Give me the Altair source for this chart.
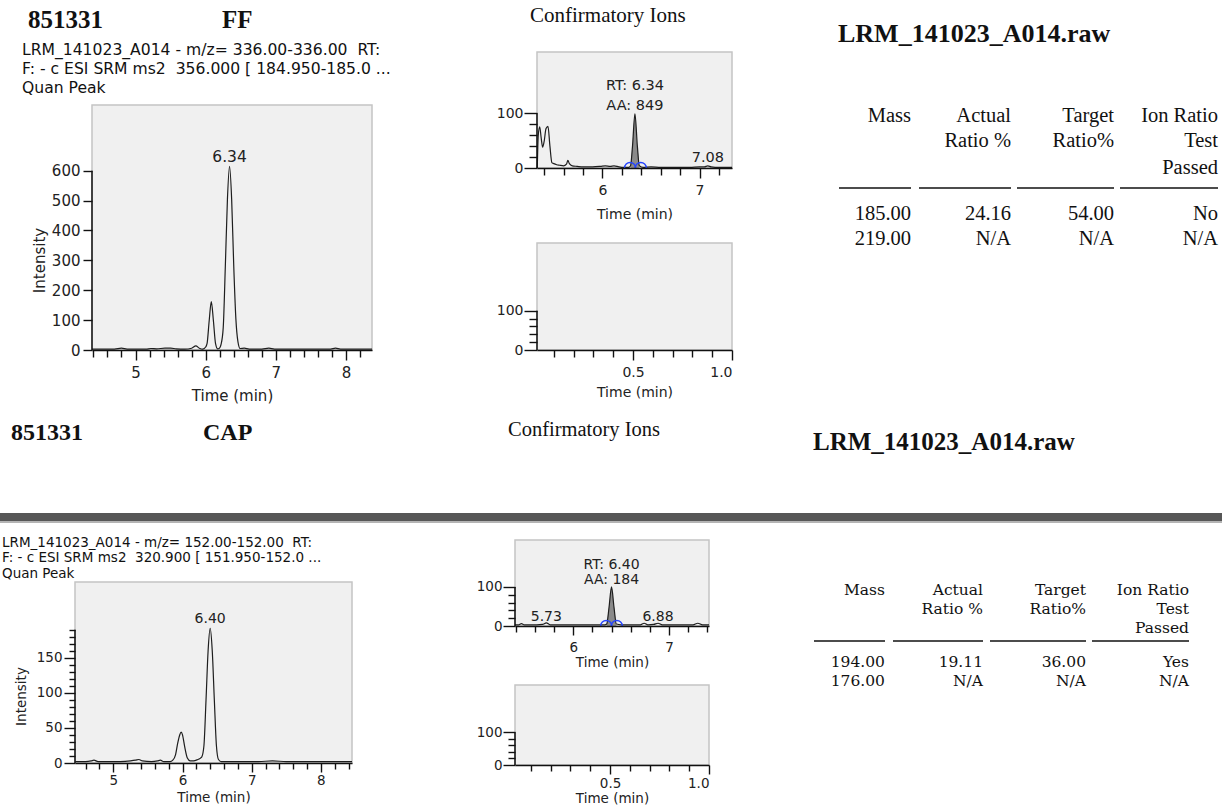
import altair as alt
import pandas as pd

W, H = 1222, 805
SANS = "DejaVu Sans"
SERIF = "Liberation Serif"
SERIF2 = "DejaVu Serif"
NB = "\u00a0"

# ---------------- texts ----------------
sample_id = "851331"
compound_top = "FF"
compound_bottom = "CAP"
raw_file = "LRM_141023_A014.raw"
conf_title = "Confirmatory Ions"
top_info = ["LRM_141023_A014 - m/z= 336.00-336.00 " + NB + "RT:",
            "F: - c ESI SRM ms2 " + NB + "356.000 [ 184.950-185.0 ...",
            "Quan Peak"]
bot_info = ["LRM_141023_A014 - m/z= 152.00-152.00 " + NB + "RT:",
            "F: - c ESI SRM ms2 " + NB + "320.900 [ 151.950-152.0 ...",
            "Quan Peak"]

table_headers = [["Mass"], ["Actual", "Ratio %"], ["Target", "Ratio%"], ["Ion Ratio", "Test", "Passed"]]
ff_table_rows = [["185.00", "24.16", "54.00", "No"], ["219.00", "N/A", "N/A", "N/A"]]
cap_table_rows = [["194.00", "19.11", "36.00", "Yes"], ["176.00", "N/A", "N/A", "N/A"]]

# ---------------- chromatogram data ----------------
# FF quan peak (m/z 336 -> 185)
ff_q_t = [4.38, 4.55, 4.70, 4.80, 4.88, 5.00, 5.15, 5.22, 5.30, 5.42, 5.50, 5.58, 5.70, 5.80, 5.86,
          5.91, 5.96, 6.00, 6.02, 6.05, 6.08, 6.11, 6.14, 6.17, 6.19, 6.22, 6.25, 6.28, 6.31, 6.34,
          6.37, 6.40, 6.43, 6.46, 6.49, 6.55, 6.62, 6.80, 6.90, 6.98, 7.20, 7.50, 7.78, 7.85, 7.92,
          8.10, 8.37]
ff_q_i = [3, 3, 3, 6, 3, 3, 3, 5, 4, 6, 6, 4, 3, 6, 14,
          6, 3, 10, 22, 98, 162, 98, 22, 4, 5, 20, 75, 280, 505, 615,
          505, 280, 105, 27, 5, 6, 3, 3, 6, 3, 3, 3, 3, 6, 3,
          3, 3]
ff_q_labels = [(6.34, 615, "6.34")]

# FF confirmatory ion
ff_c_t = [5.33, 5.34, 5.355, 5.37, 5.385, 5.40, 5.42, 5.44, 5.46, 5.48, 5.50, 5.53, 5.56, 5.60, 5.63,
          5.645, 5.66, 5.69, 5.74, 5.80, 5.90, 5.98, 6.03, 6.08, 6.12, 6.17, 6.22, 6.27, 6.29, 6.31,
          6.335, 6.36, 6.38, 6.42, 6.50, 6.60, 6.75, 6.90, 7.00, 7.05, 7.085, 7.12, 7.20, 7.334]
ff_c_i = [0, 60, 75, 55, 38, 48, 72, 76, 40, 10, 8, 6, 5, 4, 7,
          14, 8, 4, 3, 2, 2, 3, 4, 3, 4, 2, 1, 1, 4, 40,
          99, 40, 4, 1, 2, 1, 1, 1, 2, 2, 4, 2, 1, 1]
ff_c_peak = (6.28, 6.385)
ff_c_marks = [6.285, 6.395]
ff_c_rt = (6.335, 99, "RT: 6.34", "AA: 849")
ff_c_labels = [(7.085, 4, "7.08")]

# CAP quan peak (m/z 320.9 -> 152)
cap_q_t = [4.45, 4.60, 4.68, 4.72, 4.78, 4.95, 5.10, 5.25, 5.32, 5.37, 5.42, 5.55, 5.64, 5.68, 5.73,
           5.82, 5.86, 5.90, 5.93, 5.96, 5.98, 6.00, 6.03, 6.07, 6.11, 6.16, 6.22, 6.26, 6.28, 6.31,
           6.34, 6.37, 6.40, 6.43, 6.46, 6.49, 6.52, 6.56, 6.70, 6.90, 7.10, 7.30, 7.50, 7.80, 8.10,
           8.45]
cap_q_i = [2, 2, 3, 4, 2, 2, 2, 3, 4, 5, 3, 2, 3, 4, 2,
           2, 4, 12, 28, 40, 44, 40, 24, 7, 3, 3, 5, 7, 9, 25,
           90, 160, 192, 160, 90, 25, 5, 2, 2, 2, 2, 3, 2, 2, 2,
           2]
cap_q_labels = [(6.40, 192, "6.40")]

# CAP confirmatory ion
cap_c_t = [5.393, 5.43, 5.46, 5.49, 5.55, 5.62, 5.68, 5.72, 5.76, 5.85, 5.95, 6.05, 6.15, 6.25, 6.33,
           6.35, 6.375, 6.40, 6.425, 6.45, 6.50, 6.60, 6.70, 6.74, 6.78, 6.84, 6.885, 6.93, 7.00, 7.15,
           7.25, 7.30, 7.35, 7.417]
cap_c_i = [3, 3, 6, 3, 3, 3, 4, 8, 3, 3, 3, 3, 3, 3, 3,
           5, 50, 100, 50, 5, 3, 3, 3, 7, 3, 4, 7, 3, 3, 3,
           3, 7, 3, 3]
cap_c_peak = (6.345, 6.455)
cap_c_marks = [6.345, 6.455]
cap_c_rt = (6.40, 100, "RT: 6.40", "AA: 184")
cap_c_labels = [(5.72, 8, "5.73"), (6.885, 7, "6.88")]


def steps(a, b, s, skip=()):
    out, k = [], 0
    while a + k * s <= b + 1e-9:
        v = round(a + k * s, 2)
        if all(abs(v - q) > 1e-6 for q in skip):
            out.append(v)
        k += 1
    return out


# ---------------- panel layouts ----------------
P = {
    "ff_quan": dict(xdom=[4.38, 8.37], ydom=[0, 820], xr=[92, 372], yr=[350, 105], ytop=600,
                    xmajor=[5, 6, 7, 8], xminor=steps(4.4, 8.2, 0.2, [5, 6, 7, 8]), xfmt="d",
                    ymajor=[0, 100, 200, 300, 400, 500, 600], yminor=[],
                    font=15, xmaj=10, xmin=7, ymaj=9, ymin=6, xpad=5, ypad=3, xtitle_y=50,
                    ytitle="Intensity", ytitle_x=-53, ytitle_y=260, lab_dy=-4),
    "ff_conf": dict(xdom=[5.327, 7.334], ydom=[0, 212], xr=[537, 732], yr=[168, 52], ytop=100,
                    xmajor=[6, 7], xminor=steps(5.4, 7.2, 0.2, [6, 7]), xfmt="d",
                    ymajor=[0, 100], yminor=[20, 40, 60, 80],
                    font=14, xmaj=10, xmin=7, ymaj=13, ymin=8, xpad=5, ypad=1, xtitle_y=50,
                    rt_dy1=-24, rt_dy2=-4, lab_dy=-4),
    "ff_empty": dict(xdom=[0.015, 1.0], ydom=[0, 273], xr=[537, 732], yr=[350, 243], ytop=100,
                     xmajor=[0.5, 1.0], xminor=steps(0.1, 0.9, 0.1, [0.5]), xfmt=".1f",
                     ymajor=[0, 100], yminor=[20, 40, 60, 80],
                     font=14, xmaj=10, xmin=7, ymaj=13, ymin=8, xpad=5, ypad=1, xtitle_y=46),
    "cap_quan": dict(xdom=[4.446, 8.45], ydom=[0, 258], xr=[75, 352], yr=[763, 582], ytop=190,
                     xmajor=[5, 6, 7, 8], xminor=steps(4.6, 8.4, 0.2, [5, 6, 7, 8]), xfmt="d",
                     ymajor=[0, 50, 100, 150], yminor=steps(10, 190, 10, [50, 100, 150]),
                     font=13.5, xmaj=9, xmin=6, ymaj=11, ymin=6, xpad=1, ypad=2, xtitle_y=38,
                     ytitle="Intensity", ytitle_x=-54, ytitle_y=696, lab_dy=-5),
    "cap_conf": dict(xdom=[5.393, 7.417], ydom=[0, 220], xr=[515, 709], yr=[626, 540], ytop=100,
                     xmajor=[6, 7], xminor=steps(5.4, 7.4, 0.2, [6, 7]), xfmt="d",
                     ymajor=[0, 100], yminor=[20, 40, 60, 80],
                     font=13.5, xmaj=9, xmin=6, ymaj=12, ymin=7, xpad=5, ypad=1, xtitle_y=40,
                     rt_dy1=-18, rt_dy2=-3, lab_dy=-2),
    "cap_empty": dict(xdom=[0.02, 1.0], ydom=[0, 245], xr=[515, 709], yr=[765, 685], ytop=100,
                      xmajor=[0.5, 1.0], xminor=steps(0.1, 0.9, 0.1, [0.5]), xfmt=".1f",
                      ymajor=[0, 100], yminor=[20, 40, 60, 80],
                      font=13.5, xmaj=9, xmin=6, ymaj=12, ymin=7, xpad=2, ypad=1, xtitle_y=37),
}

ARC = "M -1 0 A 1 1 0 0 1 1 0"


def common(size):
    return dict(labelFont=SANS, labelFontSize=size, labelColor="#222",
                titleFont=SANS, titleFontSize=size, titleColor="#222", titleFontWeight="normal",
                tickColor="#111", tickWidth=1.4, grid=False, zindex=1)


def panel(p, t=None, i=None, peak=None, marks=None, rt=None, labels=()):
    xs = alt.Scale(domain=p["xdom"], range=p["xr"], nice=False, zero=False)
    ys = alt.Scale(domain=p["ydom"], range=p["yr"], nice=False, zero=False)
    boff = p["yr"][0] - H
    loff = -p["xr"][0]
    fs = p["font"]
    cm = common(fs)
    layers = []

    # plot frame + minor ticks
    bg = pd.DataFrame({"x0": [p["xdom"][0]], "x1": [p["xdom"][1]],
                       "y0": [p["ydom"][0]], "y1": [p["ydom"][1]]})
    xminor = alt.Axis(orient="bottom", offset=boff, values=p["xminor"], labels=False, title=None,
                      domain=False, tickSize=p["xmin"], **cm)
    if p["yminor"]:
        yminor = alt.Axis(orient="left", offset=loff, values=p["yminor"], labels=False, title=None,
                          domain=False, tickSize=p["ymin"], **cm)
    else:
        yminor = None
    layers.append(alt.Chart(bg).mark_rect(fill="#f0f0f0", stroke="#c4c4c4", strokeWidth=1.5).encode(
        x=alt.X("x0:Q", scale=xs, axis=xminor), x2="x1:Q",
        y=alt.Y("y0:Q", scale=ys, axis=yminor), y2="y1:Q"))

    if t is not None:
        df = pd.DataFrame({"t": t, "i": i})
        if peak:
            layers.append(alt.Chart(df).transform_filter(
                f"datum.t >= {peak[0]} && datum.t <= {peak[1]}").transform_calculate(base="0").mark_area(
                color="#8a8a8a", interpolate="monotone").encode(
                x=alt.X("t:Q", scale=xs, axis=None), y=alt.Y("i:Q", scale=ys, axis=None),
                y2="base:Q"))
        layers.append(alt.Chart(df).mark_line(color="#1e1e1e", strokeWidth=1.2, interpolate="monotone").encode(
            x=alt.X("t:Q", scale=xs, axis=None), y=alt.Y("i:Q", scale=ys, axis=None)))

    # y axis line + major axes
    rule = pd.DataFrame({"x": [p["xdom"][0]], "y0": [0], "y1": [p["ytop"]]})
    xmajor = alt.Axis(orient="bottom", offset=boff, values=p["xmajor"], format=p["xfmt"],
                      title="Time (min)", titleY=p["xtitle_y"], titleBaseline="alphabetic",
                      domain=True, domainColor="#111", domainWidth=1.5,
                      tickSize=p["xmaj"], labelPadding=p["xpad"], **cm)
    if p.get("ytitle"):
        ykw = dict(title=p["ytitle"], titleX=p["ytitle_x"], titleY=p["ytitle_y"], titleBaseline="middle")
    else:
        ykw = dict(title=None)
    ymajor = alt.Axis(orient="left", offset=loff, values=p["ymajor"], format="d", domain=False,
                      tickSize=p["ymaj"], labelPadding=p["ypad"], **ykw, **cm)
    layers.append(alt.Chart(rule).mark_rule(color="#111", strokeWidth=1.5).encode(
        x=alt.X("x:Q", scale=xs, axis=xmajor),
        y=alt.Y("y0:Q", scale=ys, axis=ymajor), y2="y1:Q"))

    # integration markers
    if marks:
        mdf = pd.DataFrame({"t": marks, "i": [0] * len(marks)})
        layers.append(alt.Chart(mdf).mark_point(shape=ARC, size=121, filled=False, color="#2343ff",
                                                strokeWidth=1.4, opacity=1).encode(
            x=alt.X("t:Q", scale=xs, axis=None), y=alt.Y("i:Q", scale=ys, axis=None)))

    def lab(tt, ii, txt, dy):
        d = pd.DataFrame({"t": [tt], "i": [ii], "txt": [txt]})
        return alt.Chart(d).mark_text(font=SANS, fontSize=fs + 0.5, color="#222", baseline="alphabetic",
                                      align="center", dy=dy).encode(
            x=alt.X("t:Q", scale=xs, axis=None), y=alt.Y("i:Q", scale=ys, axis=None), text="txt:N")

    for (tt, ii, txt) in labels:
        layers.append(lab(tt, ii, txt, p.get("lab_dy", -4)))
    if rt:
        layers.append(lab(rt[0], rt[1], rt[2], p.get("rt_dy1", -25)))
        layers.append(lab(rt[0], rt[1], rt[3], p.get("rt_dy2", -4)))
    return layers


def text(s, x, y, size, font, weight="normal", align="left", color="#111"):
    return alt.Chart(alt.Data(values=[{}])).mark_text(
        text=s, align=align, baseline="alphabetic", font=font, fontSize=size,
        fontWeight=weight, color=color).encode(x=alt.value(x), y=alt.value(y))


def table(rows, right, rule_left, header_y, rule_y, row_y, font, size):
    cells = []
    for c, lines in enumerate(table_headers):
        for k, line in enumerate(lines):
            cells.append({"txt": line, "px": right[c], "py": header_y[k]})
    for r, row in enumerate(rows):
        for c, v in enumerate(row):
            cells.append({"txt": v, "px": right[c], "py": row_y[r]})
    tx = alt.Chart(pd.DataFrame(cells)).mark_text(
        align="right", baseline="alphabetic", font=font, fontSize=size, color="#111").encode(
        x=alt.X("px:Q", scale=None, axis=None), y=alt.Y("py:Q", scale=None, axis=None), text="txt:N")
    rl = alt.Chart(pd.DataFrame({"x0": rule_left, "x1": right, "y": [rule_y] * len(right)})).mark_rule(
        color="#111", strokeWidth=1.5).encode(
        x=alt.X("x0:Q", scale=None, axis=None), x2="x1:Q", y=alt.Y("y:Q", scale=None, axis=None))
    return [rl, tx]


layers = []
layers += panel(P["ff_quan"], ff_q_t, ff_q_i, labels=ff_q_labels)
layers += panel(P["ff_conf"], ff_c_t, ff_c_i, peak=ff_c_peak, marks=ff_c_marks, rt=ff_c_rt, labels=ff_c_labels)
layers += panel(P["ff_empty"])
layers += panel(P["cap_quan"], cap_q_t, cap_q_i, labels=cap_q_labels)
layers += panel(P["cap_conf"], cap_c_t, cap_c_i, peak=cap_c_peak, marks=cap_c_marks, rt=cap_c_rt, labels=cap_c_labels)
layers += panel(P["cap_empty"])

# headings (top block)
layers += [
    text(sample_id, 28, 28, 25, SERIF, "bold"),
    text(compound_top, 222, 28, 25, SERIF, "bold"),
    text(conf_title, 530, 21.5, 21, SERIF),
    text(raw_file, 838, 41.5, 26, SERIF, "bold"),
]
for s, y in zip(top_info, [55, 73.5, 93]):
    layers.append(text(s, 22, y, 15.6, SANS))
# headings (bottom block)
layers += [
    text(sample_id, 11, 440, 24, SERIF, "bold"),
    text(compound_bottom, 203, 440, 24, SERIF, "bold"),
    text(conf_title, 508, 436, 20.5, SERIF),
    text(raw_file, 813, 450, 25, SERIF, "bold"),
]
for s, y in zip(bot_info, [546.5, 562, 577.5]):
    layers.append(text(s, 2, y, 13.5, SANS))

# separator band
layers.append(alt.Chart(alt.Data(values=[{}])).mark_rect(color="#575757").encode(
    x=alt.value(0), x2=alt.value(W), y=alt.value(513), y2=alt.value(521)))
layers.append(alt.Chart(alt.Data(values=[{}])).mark_rect(color="#b4b4b4").encode(
    x=alt.value(0), x2=alt.value(W), y=alt.value(521), y2=alt.value(523)))

# tables
layers += table(ff_table_rows, [911, 1011, 1114, 1218], [839, 919, 1017, 1120],
                [121.5, 147, 173.5], 188, [220, 245], SERIF, 20.5)
layers += table(cap_table_rows, [885, 983, 1086, 1189], [814, 893, 990, 1092],
                [595, 613.5, 633], 641, [667, 686], SERIF2, 15.5)

chart = alt.layer(*layers).resolve_scale(x="independent", y="independent").properties(
    width=W, height=H, autosize=alt.AutoSizeParams(type="none"), padding=0, background="white"
).configure_view(stroke=None)

chart.save("out.html", embed_options={"renderer": "svg", "actions": False})
